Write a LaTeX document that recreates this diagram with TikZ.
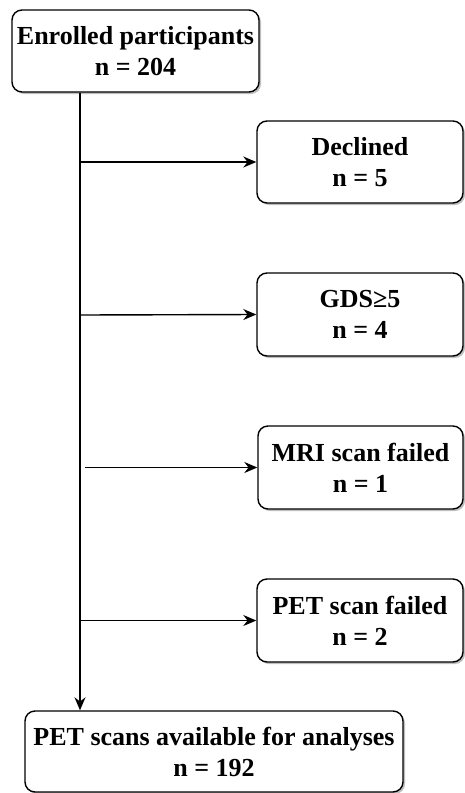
\documentclass[tikz,border=0pt]{standalone}
\usepackage{fontspec}
\setmainfont{Liberation Serif}
\newfontfamily\tnrfont{Liberation Serif}[BoldFont={Liberation Serif Bold}]
\usetikzlibrary{arrows.meta,shadows}
\begin{document}
\begin{tikzpicture}[x=1pt,y=-1pt,
  box/.style={draw=black,line width=1.4pt,rounded corners=10pt,fill=white,
    drop shadow={shadow xshift=2pt,shadow yshift=-2pt,opacity=0.25,fill=black},
    align=center,inner sep=0pt,
    font=\tnrfont\bfseries\fontsize{26}{31}\selectfont},
  conn/.style={line width=1.4pt,-{Stealth[length=13pt,width=11pt]}}]
\useasboundingbox (0,0) rectangle (464,793);
\node[box,minimum width=247pt,minimum height=82pt] (top) at (135.5,51) {Enrolled participants\\n = 204};
\node[box,minimum width=206pt,minimum height=82pt] (dec) at (360,162) {Declined\\n = 5};
\node[box,minimum width=206pt,minimum height=83pt] (gds) at (360,314.5) {GDS≥5\\n = 4};
\node[box,minimum width=205pt,minimum height=83pt] (mri) at (360.5,467.5) {MRI scan failed\\n = 1};
\node[box,minimum width=206pt,minimum height=83pt] (pet) at (360,620.5) {PET scan failed\\n = 2};
\node[box,minimum width=378pt,minimum height=81pt] (fin) at (214,751.5) {PET scans available for analyses\\n = 192};
\coordinate (s) at (80,0);
\draw[conn] (top.south -| s) -- (fin.north -| s);
\coordinate (a1) at (80,162);
\coordinate (a2) at (80,315);
\coordinate (a3) at (85,467.5);
\coordinate (a4) at (80,620.5);
\draw[conn] (a1) -- (dec.west);
\draw[conn] (a2) -- (gds.west);
\draw[conn] (a3) -- (mri.west);
\draw[conn] (a4) -- (pet.west);
\end{tikzpicture}
\end{document}
